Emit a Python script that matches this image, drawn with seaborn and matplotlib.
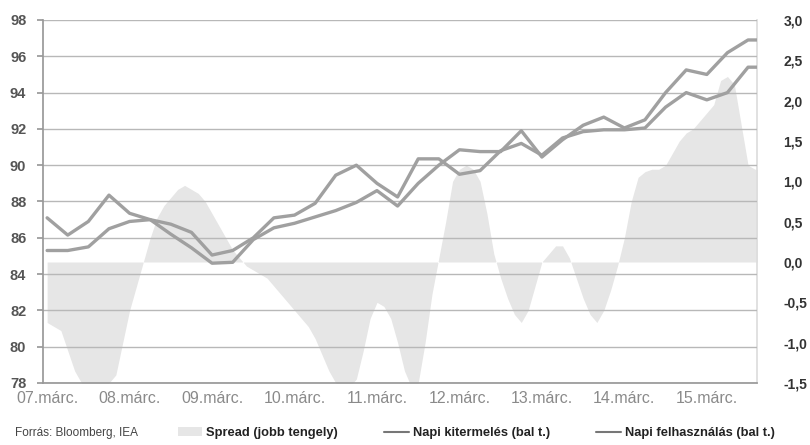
import numpy as np
import pandas as pd
import seaborn as sns
from matplotlib import pyplot as plt
from matplotlib.patches import Patch
from matplotlib.lines import Line2D

# quarterly lines (million barrels / day), 2007 March .. 2015 Dec
kitermeles = [87.1, 86.15, 86.9, 88.35, 87.35, 87.0, 86.2, 85.45, 84.6, 84.65,
              85.9, 86.55, 86.8, 87.15, 87.5, 87.95, 88.6, 87.75, 89.0, 90.0,
              90.85, 90.75, 90.75, 91.9, 90.45, 91.4, 92.2, 92.65, 92.05, 92.5,
              94.0, 95.25, 95.0, 96.2, 96.9, 96.9]
felhasznalas = [85.3, 85.3, 85.5, 86.5, 86.9, 87.0, 86.75, 86.3, 85.05, 85.3,
                86.0, 87.1, 87.25, 87.9, 89.45, 90.0, 89.0, 88.25, 90.35, 90.35,
                89.5, 89.7, 90.8, 91.2, 90.55, 91.5, 91.85, 91.95, 91.95, 92.05,
                93.2, 94.0, 93.6, 94.0, 95.4, 95.4]

# monthly spread (right axis)
spread = [-0.75, -0.8, -0.85, -1.1, -1.35, -1.5, -1.55, -1.55, -1.55, -1.5,
          -1.4, -1.0, -0.6, -0.3, 0.0, 0.3, 0.55, 0.7, 0.8, 0.9,
          0.95, 0.9, 0.85, 0.75, 0.6, 0.45, 0.3, 0.15, 0.05, -0.05,
          -0.1, -0.15, -0.2, -0.3, -0.4, -0.5, -0.6, -0.7, -0.8, -0.95,
          -1.15, -1.35, -1.5, -1.55, -1.55, -1.45, -1.1, -0.7, -0.5, -0.55,
          -0.7, -1.0, -1.35, -1.55, -1.5, -1.0, -0.4, 0.05, 0.5, 1.0,
          1.15, 1.2, 1.15, 1.0, 0.6, 0.1, -0.2, -0.45, -0.65, -0.75,
          -0.6, -0.3, 0.0, 0.1, 0.2, 0.2, 0.05, -0.2, -0.45, -0.65,
          -0.75, -0.6, -0.35, -0.05, 0.3, 0.75, 1.05, 1.12, 1.15, 1.15,
          1.2, 1.35, 1.5, 1.6, 1.65, 1.75, 1.85, 1.95, 2.25, 2.3,
          2.2, 1.7, 1.2, 1.15, 1.15, 1.1]

x_labels = ['07.márc.', '08.márc.', '09.márc.', '10.márc.', '11.márc.',
            '12.márc.', '13.márc.', '14.márc.', '15.márc.']
left_ticks = [78, 80, 82, 84, 86, 88, 90, 92, 94, 96, 98]
right_ticks = [-1.5, -1.0, -0.5, 0.0, 0.5, 1.0, 1.5, 2.0, 2.5, 3.0]

months_q = np.arange(len(kitermeles)) * 3
months_m = np.arange(len(spread))
df_lines = pd.DataFrame({'m': np.concatenate([months_q, months_q]),
                         'v': kitermeles + felhasznalas,
                         's': ['Napi kitermelés (bal t.)'] * len(kitermeles)
                              + ['Napi felhasználás (bal t.)'] * len(felhasznalas)})

sns.set_theme(style='white')
plt.rcParams['font.family'] = ['Liberation Sans', 'DejaVu Sans']

line_col = '#a0a0a0'
area_col = '#e6e6e6'
grid_col = '#b8b8b8'
txt_col = '#555555'

fig = plt.figure(figsize=(8.1, 4.45), dpi=100)
ax = fig.add_axes([43 / 810, 1 - 383 / 445, 714 / 810, 363 / 445])
ax2 = ax.twinx()

ax2.fill_between(months_m, spread, 0, color=area_col, linewidth=0)
ax2.set_ylim(-1.5, 3.0)
ax2.set_yticks(right_ticks)
ax2.set_yticklabels([f'{t:.1f}'.replace('.', ',') for t in right_ticks],
                    fontsize=10, color='#333333', fontweight='bold')
ax2.tick_params(axis='y', length=0, pad=19)

ax.set_zorder(ax2.get_zorder() + 1)
ax.patch.set_visible(False)
sns.lineplot(data=df_lines, x='m', y='v', hue='s', ax=ax, legend=False,
             palette=[line_col, line_col], linewidth=2.4)
ax.set_ylim(78, 98)
ax.set_xlim(-0.6, 103.3)
ax.set_yticks(left_ticks)
ax.set_yticklabels([str(t) for t in left_ticks], fontsize=10.5, color=txt_col,
                   fontweight='bold')
ax.set_xticks(np.arange(len(x_labels)) * 12)
ax.set_xticklabels(x_labels, fontsize=11.5, color='#8a8a8a')
ax.set_xlabel('')
ax.set_ylabel('')
ax.grid(axis='y', color=grid_col, linewidth=1)
ax.tick_params(axis='y', direction='out', length=4, color='#999999', pad=8)
ax.tick_params(axis='x', direction='inout', length=6, color='#999999', pad=3)

for a in (ax, ax2):
    a.spines['top'].set_visible(False)
ax.spines['left'].set_color('#999999')
ax.spines['bottom'].set_color('#999999')
ax.spines['right'].set_visible(False)
ax2.spines['left'].set_visible(False)
ax2.spines['bottom'].set_visible(False)
ax2.spines['right'].set_color('#dddddd')

fig.text(15 / 810, 1 - 433 / 445, 'Forrás: Bloomberg, IEA', fontsize=8.5,
         color='#444444', va='center')
handles = [Patch(facecolor=area_col, edgecolor='none'),
           Line2D([], [], color='#777777', linewidth=1.5),
           Line2D([], [], color='#777777', linewidth=1.5)]
labels = ['Spread (jobb tengely)', 'Napi kitermelés (bal t.)',
          'Napi felhasználás (bal t.)']
leg = fig.legend(handles, labels, loc='center left', ncol=3, frameon=False,
                 bbox_to_anchor=(166 / 810, 1 - 433 / 445), fontsize=9.3,
                 handlelength=1.9, handletextpad=0.3, columnspacing=3.6)
for t in leg.get_texts():
    t.set_fontweight('bold')
    t.set_color('#222222')

fig.savefig('out.png', dpi=100)
